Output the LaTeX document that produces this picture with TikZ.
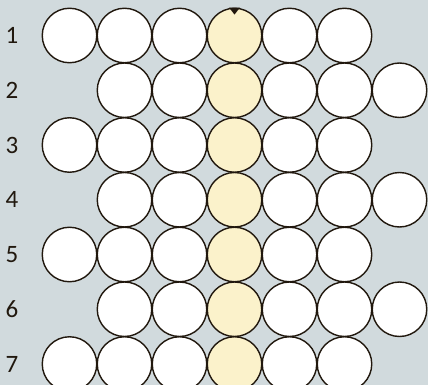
\documentclass[tikz,border=0pt]{standalone}
\usepackage{fontspec}
\setmainfont{Carlito}
\definecolor{bg}{HTML}{D1DADD}
\definecolor{pale}{HTML}{FBF2CB}
\definecolor{ink}{HTML}{21180E}
\tikzset{
  ball/.style={circle, draw=ink, line width=1.4pt, fill=white, minimum size=54.5pt, inner sep=0pt},
  hot/.style={ball, fill=pale},
  rowlabel/.style={font=\fontsize{25}{26}\selectfont, text=ink, inner sep=0pt}
}
\begin{document}
\begin{tikzpicture}[x=1pt,y=-1pt]
\clip (0,0) rectangle (428,385);
\fill[bg] (0,0) rectangle (428,385);
\foreach \r in {1,...,7}{
  \pgfmathsetmacro{\yy}{35.5+(\r-1)*54.75}
  \node[rowlabel] (lab\r) at (12,\yy) {\r};
  \pgfmathtruncatemacro{\odd}{mod(\r,2)}
  \ifnum\odd=1
    \foreach \c in {1,...,6}{
      \ifnum\c=4 \node[hot] (b\r-\c) at ({69.5+(\c-1)*55},\yy) {};
      \else \node[ball] (b\r-\c) at ({69.5+(\c-1)*55},\yy) {}; \fi
    }
  \else
    \foreach \c in {2,...,7}{
      \ifnum\c=4 \node[hot] (b\r-\c) at ({69.5+(\c-1)*55},\yy) {};
      \else \node[ball] (b\r-\c) at ({69.5+(\c-1)*55},\yy) {}; \fi
    }
  \fi
}
\fill[ink] ([xshift=-5.5pt]b1-4.north) -- ([xshift=5.5pt]b1-4.north) -- ([yshift=-7pt]b1-4.north) -- cycle;
\end{tikzpicture}
\end{document}
